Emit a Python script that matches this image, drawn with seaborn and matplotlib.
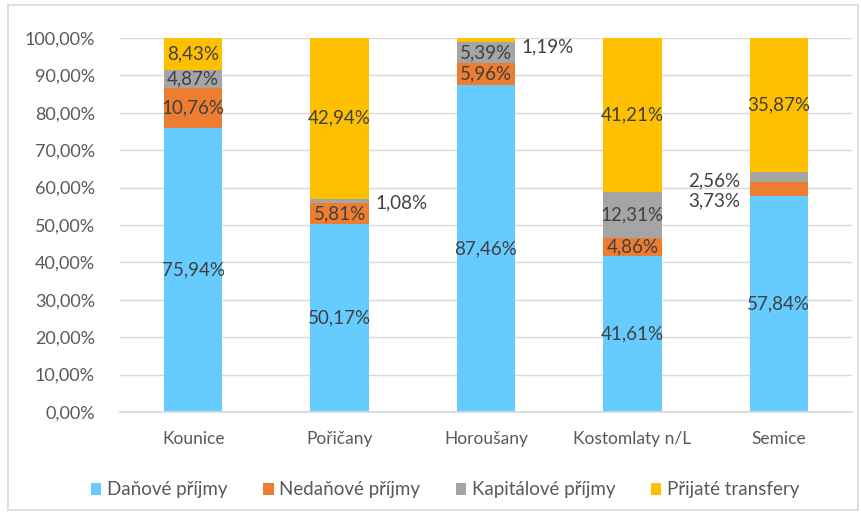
"""Stacked 100% bar chart: revenue structure of five municipalities."""
import matplotlib
matplotlib.use("Agg")
import matplotlib.pyplot as plt
from matplotlib.patches import Patch, Rectangle
from matplotlib.ticker import FuncFormatter
import numpy as np
import pandas as pd
import seaborn as sns

# ── Data ──────────────────────────────────────────────────────────────────
obce = ["Kounice", "Pořičany", "Horoušany", "Kostomlaty n/L", "Semice"]
serie = ["Daňové příjmy", "Nedaňové příjmy", "Kapitálové příjmy", "Přijaté transfery"]
danove = [75.94, 50.17, 87.46, 41.61, 57.84]
nedanove = [10.76, 5.81, 5.96, 4.86, 3.73]
kapitalove = [4.87, 1.08, 5.39, 12.31, 2.56]
transfery = [8.43, 42.94, 1.19, 41.21, 35.87]

barvy = ["#66CBFF", "#ED7D31", "#A5A5A5", "#FFC000"]
TEXT = "#595959"
LABEL = "#404040"

# labels Excel had moved off the bar: (series index, category index) -> (dx, dy)
posuny = {
    (2, 1): (0.42, -0.6),
    (3, 2): (0.42, -1.8),
    (2, 4): (-0.44, -1.0),
    (1, 4): (-0.44, -3.3),
}

sns.set_theme(style="white")
plt.rcParams["font.family"] = ["Lato", "DejaVu Sans"]

df = pd.DataFrame({"obec": obce, serie[0]: danove, serie[1]: nedanove,
                   serie[2]: kapitalove, serie[3]: transfery})
vals = df[serie].to_numpy()
cum = vals.cumsum(axis=1)
cum[:, -1] = 100.0  # rounding of the source labels

fig = plt.figure(figsize=(8.61, 5.16), dpi=100)
fig.patches.append(Rectangle((0.009, 0.012), 0.988, 0.978, transform=fig.transFigure,
                             fill=False, edgecolor="#D9D9D9", linewidth=1.2))
ax = fig.add_axes([120 / 861, 104 / 516, 732 / 861, 374 / 516])

# draw cumulative bars from the top down so each layer covers the one above
for i in range(len(serie) - 1, -1, -1):
    sns.barplot(x=df["obec"], y=cum[:, i], color=barvy[i], saturation=1,
                width=0.4, linewidth=0, ax=ax, zorder=2)

# data labels
for i in range(len(serie)):
    for j in range(len(obce)):
        bottom = cum[j, i] - vals[j, i]
        yc = bottom + vals[j, i] / 2
        dx, dy = posuny.get((i, j), (0, 0))
        ax.text(j + dx, yc + dy, f"{vals[j, i]:.2f}%".replace(".", ","),
                ha="center", va="center", fontsize=13.5, color=LABEL, zorder=3)

ax.set_ylim(0, 100)
ax.set_xlim(-0.5, len(obce) - 0.5)
ax.set_yticks(np.arange(0, 101, 10))
ax.yaxis.set_major_formatter(FuncFormatter(lambda v, _: f"{v:.2f}%".replace(".", ",")))
ax.grid(axis="y", color="#D9D9D9", linewidth=1, zorder=0)
ax.set_axisbelow(True)
for s in ["top", "right", "left"]:
    ax.spines[s].set_visible(False)
ax.spines["bottom"].set_color("#D9D9D9")
ax.set_xlabel("")
ax.set_ylabel("")
ax.tick_params(axis="both", length=0, labelcolor=TEXT)
ax.tick_params(axis="x", labelsize=12.5, pad=14)
ax.tick_params(axis="y", labelsize=13, pad=18)

handles = [Patch(facecolor=c, edgecolor="none") for c in barvy]
fig.legend(handles, serie, loc="center", bbox_to_anchor=(0.517, 26 / 516), ncol=4,
           frameon=False, fontsize=13.5, labelcolor=TEXT, handlelength=0.55,
           handleheight=0.55, handletextpad=0.3, columnspacing=1.9)

fig.savefig("out.png", dpi=100)
plt.close(fig)
